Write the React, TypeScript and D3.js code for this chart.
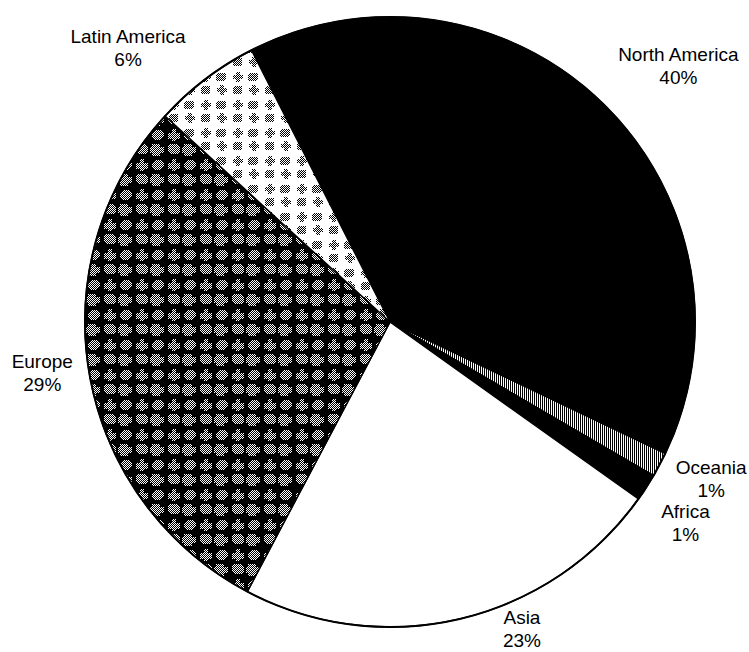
import React from "react";
import * as d3 from "d3";

// Share of total by region, clockwise from the top-left edge of North America
const regions = ["North America", "Oceania", "Africa", "Asia", "Europe", "Latin America"];
const shares = [39.6, 1.3, 1.45, 22.9, 29.05, 5.7];

// Fill for each region's wedge
const fills = ["#000", "url(#stripes)", "#000", "#fff", "url(#denseDots)", "url(#lightDots)"];

// Label nudges relative to the wedge's outer label point
const labelNudges: [number, number][] = [
  [37, -3],
  [3, -16],
  [-7, 1],
  [49, -48],
  [7, -15],
  [-44, 8],
];

const W = 749;
const H = 652;
const CX = 390;
const CY = 322;
const R = 305;
const START = (-27 * Math.PI) / 180;

export default function App() {
  const arcs = d3
    .pie<number>()
    .sort(null)
    .value((d) => d)
    .startAngle(START)
    .endAngle(START + 2 * Math.PI)(shares);

  const arc = d3.arc<d3.PieArcDatum<number>>().innerRadius(0).outerRadius(R);
  const labelArc = d3.arc<d3.PieArcDatum<number>>().innerRadius(360).outerRadius(360);
  const total = d3.sum(shares);

  return (
    <svg
      width={W}
      height={H}
      style={{ position: "absolute", left: 0, top: 0, display: "block", background: "#fff" }}
    >
      <defs>
        <pattern id="checker" width={2} height={2} patternUnits="userSpaceOnUse">
          <rect width={2} height={2} fill="#000" />
          <rect x={0} y={0} width={1} height={1} fill="#fff" />
          <rect x={1} y={1} width={1} height={1} fill="#fff" />
        </pattern>
        <pattern id="stripes" width={2} height={2} patternUnits="userSpaceOnUse">
          <rect width={2} height={2} fill="#fff" />
          <rect x={0} y={0} width={1} height={2} fill="#000" />
        </pattern>
        <pattern id="denseDots" width={32} height={30} patternUnits="userSpaceOnUse">
          <rect width={32} height={30} fill="#000" />
          <g fill="url(#checker)" shapeRendering="crispEdges">
            <rect x={2} y={2} width={12} height={10} rx={4} />
            <path d="M18 2h8v3h4v6h-4v3h-8v-3h-2v-6h2z" />
            <path d="M2 21h4v-4h4v4h4v6h-4v2h-4v-2h-4z" />
            <ellipse cx={24} cy={23} rx={6} ry={5} />
          </g>
        </pattern>
        <pattern id="lightDots" width={32} height={28} patternUnits="userSpaceOnUse">
          <rect width={32} height={28} fill="#fff" />
          <g fill="url(#checker)" shapeRendering="crispEdges">
            <path d="M6 2h4v3h3v4h-3v3h-4v-3h-3v-4h3z" />
            <rect x={18} y={3} width={10} height={8} rx={3} />
            <rect x={3} y={16} width={9} height={8} rx={2} />
            <path d="M22 15h4v3h3v4h-3v3h-4v-3h-3v-4h3z" />
          </g>
        </pattern>
      </defs>

      <g transform={`translate(${CX},${CY})`}>
        {arcs.map((a, i) => (
          <path
            key={regions[i]}
            d={arc(a) ?? ""}
            fill={fills[i]}
            stroke="#000"
            strokeWidth={1.5}
            strokeLinejoin="round"
          />
        ))}
        <circle r={R} fill="none" stroke="#000" strokeWidth={2} />

        {arcs.map((a, i) => {
          const [lx, ly] = labelArc.centroid(a);
          const x = lx + labelNudges[i][0];
          const y = ly + labelNudges[i][1];
          const pct = Math.round((a.data / total) * 100);
          return (
            <text
              key={`label-${regions[i]}`}
              x={x}
              y={y}
              textAnchor="middle"
              fontFamily="'Liberation Sans', Arial, Helvetica, sans-serif"
              fontSize={19}
              fill="#000"
            >
              <tspan x={x} y={y}>{regions[i]}</tspan>
              <tspan x={x} y={y + 23}>{`${pct}%`}</tspan>
            </text>
          );
        })}
      </g>
    </svg>
  );
}
